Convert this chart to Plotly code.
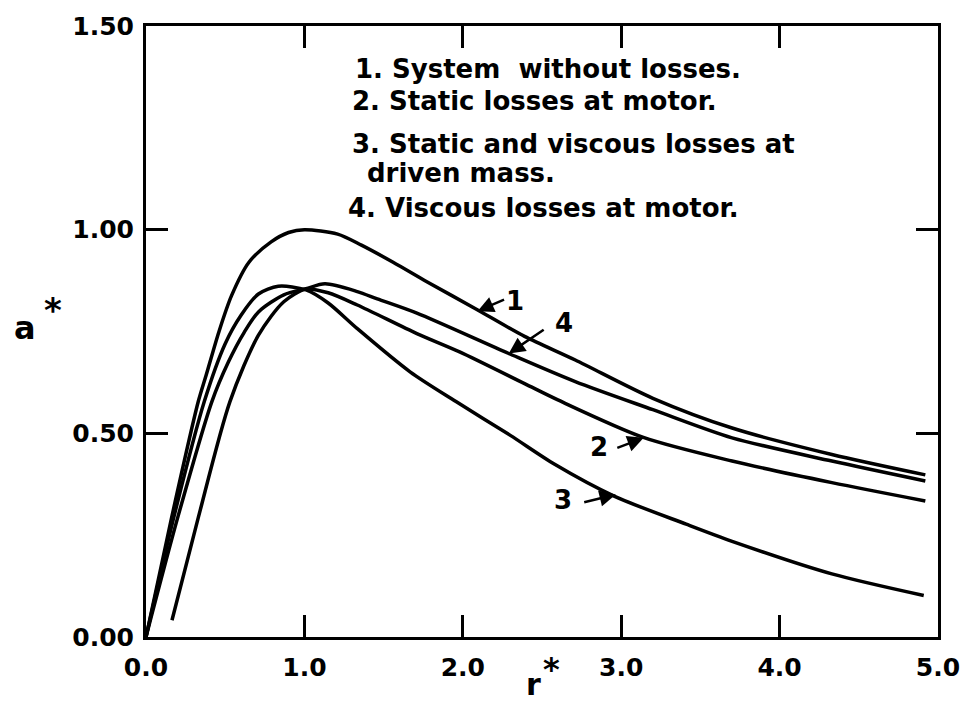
import plotly.graph_objects as go

# Curve 1: System without losses
r1 = [0, 0.16, 0.33, 0.38, 0.46, 0.54, 0.65, 0.79, 0.9, 1.0, 1.21, 1.36, 1.56, 1.77, 2.08, 2.39, 2.71, 3.2, 3.7, 4.33, 4.92]
a1 = [0, 0.29, 0.578, 0.643, 0.749, 0.838, 0.92, 0.97, 0.993, 1.0, 0.989, 0.962, 0.92, 0.873, 0.806, 0.738, 0.68, 0.586, 0.513, 0.448, 0.398]

# Curve 2: Static losses at motor
r2 = [0.164, 0.33, 0.53, 0.71, 0.87, 1.01, 1.15, 1.334, 1.71, 1.98, 2.39, 2.6, 3.14, 3.7, 4.33, 4.92]
a2 = [0.041, 0.293, 0.578, 0.741, 0.823, 0.854, 0.845, 0.815, 0.745, 0.70, 0.622, 0.582, 0.49, 0.432, 0.379, 0.334]

# Curve 3: Static and viscous losses at driven mass
r3 = [0, 0.175, 0.368, 0.5, 0.6, 0.71, 0.835, 1.01, 1.15, 1.334, 1.667, 1.957, 2.3, 2.58, 2.955, 3.41, 3.7, 4.33, 4.91]
a3 = [0, 0.293, 0.578, 0.72, 0.79, 0.842, 0.861, 0.852, 0.82, 0.757, 0.651, 0.578, 0.495, 0.424, 0.346, 0.277, 0.235, 0.155, 0.102]

# Curve 4: Viscous losses at motor
r4 = [0, 0.2, 0.416, 0.52, 0.62, 0.71, 0.87, 1.01, 1.13, 1.334, 1.46, 1.71, 2.29, 2.71, 3.2, 3.7, 4.33, 4.92]
a4 = [0, 0.293, 0.578, 0.675, 0.748, 0.798, 0.84, 0.855, 0.867, 0.848, 0.83, 0.795, 0.696, 0.627, 0.558, 0.489, 0.432, 0.383]

x_ticks = [0, 1, 2, 3, 4, 5]
x_labels = ["0.0", "1.0", "2.0", "3.0", "4.0", "5.0"]
y_ticks = [0, 0.5, 1.0, 1.5]
y_labels = ["0.00", "0.50", "1.00", "1.50"]

legend_lines = [
    "1. System  without losses.",
    "2. Static losses at motor.",
    "3. Static and viscous losses at",
    "driven mass.",
    "4. Viscous losses at motor.",
]

# curve label: (text, text_x, text_y, tail_x, tail_y, tip_x, tip_y)
curve_labels = [
    ("1", 2.33, 0.826, 2.27, 0.830, 2.093, 0.800),
    ("4", 2.64, 0.772, 2.52, 0.757, 2.29, 0.696),
    ("2", 2.86, 0.466, 2.966, 0.463, 3.142, 0.489),
    ("3", 2.63, 0.336, 2.757, 0.330, 2.966, 0.350),
]

FONT = "DejaVu Sans"
fig = go.Figure()
for rr, aa in [(r1, a1), (r2, a2), (r3, a3), (r4, a4)]:
    fig.add_trace(go.Scatter(x=rr, y=aa, mode="lines",
                             line=dict(color="black", width=3.5, shape="spline", smoothing=0.8),
                             showlegend=False, hoverinfo="skip"))

ann = []
legend_pos = [(1.305, 1.395), (1.29, 1.315), (1.29, 1.210), (1.385, 1.139), (1.26, 1.054)]
for txt, (lx, ly) in zip(legend_lines, legend_pos):
    ann.append(dict(x=lx, y=ly, xref="x", yref="y", text=txt, showarrow=False,
                    xanchor="left", yanchor="middle",
                    font=dict(family=FONT, size=26, color="black", weight="bold")))

for t, tx, ty, ax_, ay_, px, py in curve_labels:
    ann.append(dict(x=px, y=py, ax=ax_, ay=ay_, xref="x", yref="y", axref="x", ayref="y",
                    text="", showarrow=True, arrowhead=2, arrowsize=1.3, arrowwidth=2.5,
                    arrowcolor="black", standoff=0, startstandoff=0))
    ann.append(dict(x=tx, y=ty, xref="x", yref="y", text=t, showarrow=False,
                    xanchor="center", yanchor="middle",
                    font=dict(family=FONT, size=26, color="black", weight="bold")))

# axis titles a* and r*
axis_titles = [
    ("a", -0.1525, 0.505, 32),
    ("*", -0.118, 0.535, 34),
    ("r", 0.489, -0.077, 30),
    ("*", 0.5115, -0.052, 32),
]
for t, px, py, sz in axis_titles:
    ann.append(dict(x=px, y=py, xref="paper", yref="paper", text=t, showarrow=False,
                    xanchor="center", yanchor="middle",
                    font=dict(family=FONT, size=sz, color="black", weight="bold")))

fig.update_layout(
    width=972, height=706,
    margin=dict(l=146, r=26, t=22, b=69),
    paper_bgcolor="white", plot_bgcolor="white",
    annotations=ann,
)
axis_common = dict(showline=True, linewidth=3, linecolor="black", mirror="ticks",
                   ticks="inside", ticklen=22, tickwidth=3, tickcolor="black",
                   showgrid=False, zeroline=False,
                   tickfont=dict(family=FONT, size=25, color="black", weight="bold"))
fig.update_xaxes(range=[0, 5], tickvals=x_ticks, ticktext=x_labels, ticklabelstandoff=6, **axis_common)
fig.update_yaxes(range=[0, 1.5], tickvals=y_ticks, ticktext=y_labels, ticklabelstandoff=4, **axis_common)

fig.write_html("out.html")
